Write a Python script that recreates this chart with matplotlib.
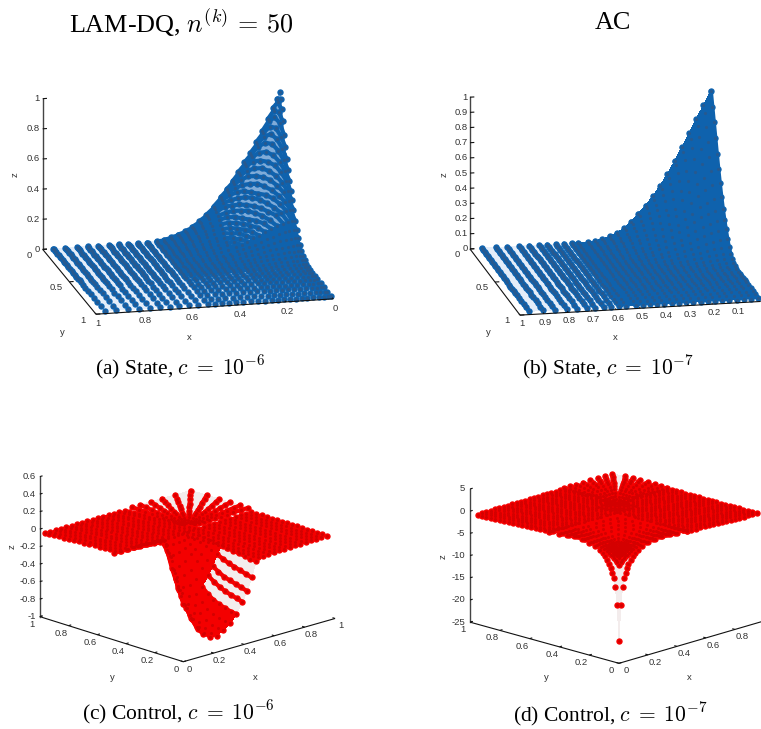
import numpy as np
import matplotlib
matplotlib.use('Agg')
import matplotlib.pyplot as plt
from mpl_toolkits.mplot3d import proj3d

W, H = 761, 729
plt.rcParams['font.family'] = ['Liberation Sans', 'DejaVu Sans']
plt.rcParams['mathtext.fontset'] = 'cm'

BLUE, BLUE_D, BLUE_P, BLUE_M = '#0f62ad', '#27598f', '#e4edf9', '#7fabd8'
RED, RED_D, RED_P = '#f40000', '#d40000', '#f3ecec'

# ---------- (a) state, LAM-DQ ----------
a_low = [0,.012,.03,.05,.075,.1,.125,.15,.175,.2,.225,.25,.28,.31,.34,.37,.4,.43,.46,.49,.52]
a_x_high = [.56,.6,.64,.68,.72,.765,.81,.855,.905,.955]
a_y_high = [.56,.6,.65,.7,.76,.82,.89,.96]
a_z = [
 [.94],
 [.90,.88],
 [.84,.825,.79],
 [.77,.76,.73,.69],
 [.69,.68,.665,.635,.585],
 [.62,.61,.60,.57,.53,.49],
 [.55,.545,.535,.515,.48,.44,.40],
 [.49,.485,.478,.455,.43,.39,.345,.32],
 [.43,.43,.42,.40,.375,.345,.315,.275,.245],
 [.37,.37,.365,.345,.33,.30,.27,.24,.20,.175],
 [.32,.32,.315,.30,.28,.255,.23,.20,.17,.145,.125],
 [.27,.27,.265,.25,.24,.21,.19,.165,.14,.115,.095,.08],
 [.21,.21,.205,.195,.18,.165,.145,.125,.11,.09,.07,.06,.045],
 [.16,.16,.157,.15,.14,.125,.11,.095,.08,.07,.055,.043,.03,.022],
 [.12,.12,.118,.112,.105,.097,.087,.076,.066,.056,.046,.037,.028,.02,.014],
 [.085,.085,.083,.08,.075,.07,.063,.055,.047,.04,.033,.026,.02,.014,.009,.006],
 [.06,.06,.058,.056,.053,.05,.045,.04,.034,.029,.024,.018,.013,.009,.006,.003,.002],
 [.04,.04,.039,.037,.035,.032,.029,.025,.021,.018,.014,.011,.008,.005,.003,.002,.001,.001],
 [.025,.025,.024,.023,.021,.019,.017,.015,.012,.01,.008,.006,.004,.003,.002,.001,.001],
 [.012,.012,.011,.011,.01,.009,.008,.007,.006,.005,.004,.003,.002,.001,.001],
 [.004,.004,.004,.004,.003,.003,.003,.002,.002,.002,.001,.001,.001],
]

# ---------- (b) state, AC ----------
b_low = [0,.03,.06,.09,.12,.15,.18,.21,.24,.27,.30,.33,.36,.39,.42,.45,.48,.51]
b_high = [.55,.578,.61,.643,.679,.712,.753,.796,.845,.893,.952]
b_z = [
 [.95],
 [.86,.82],
 [.77,.74,.68],
 [.68,.655,.61,.55],
 [.59,.57,.53,.475,.42],
 [.50,.49,.45,.41,.36,.31],
 [.42,.41,.38,.345,.305,.255,.22],
 [.345,.335,.31,.285,.24,.215,.175,.145],
 [.28,.27,.25,.23,.2,.17,.14,.11,.09],
 [.22,.215,.2,.18,.155,.13,.105,.085,.065,.05],
 [.17,.165,.15,.135,.115,.095,.08,.06,.045,.035,.025],
 [.12,.115,.105,.095,.08,.065,.055,.04,.03,.022,.015,.01],
 [.08,.078,.07,.063,.053,.044,.035,.026,.018,.012,.008,.005,.003],
 [.05,.049,.044,.04,.034,.027,.02,.015,.01,.006,.004,.002,.001],
 [.03,.029,.026,.023,.019,.015,.011,.008,.005,.003,.002,.001],
 [.015,.014,.013,.011,.009,.007,.005,.003,.002,.001],
 [.006,.006,.005,.004,.003,.002,.001],
 [.001,.001],
]

# ---------- (c) control, LAM-DQ ----------
c_bowl_x = [0,.044,.088,.132,.176,.22,.264,.31,.35,.39,.42,.45,.48]
c_bowl_y = [0,.04,.08,.12,.16,.2,.24,.28,.32,.36,.4,.44,.48]
c_bowl_z = [
 [-.34,-.49,-.65,-.75,-.80,-.81,-.77,-.71,-.63,-.51,-.40,-.26,-.085],
 [-.15,-.38,-.56,-.71,-.78,-.80,-.77,-.71,-.62,-.49,-.38,-.24,-.08],
 [.03,-.22,-.44,-.62,-.73,-.77,-.75,-.69,-.60,-.47,-.36,-.22,-.07],
 [.26,-.02,-.29,-.51,-.66,-.72,-.72,-.67,-.58,-.45,-.34,-.2,-.06],
 [.31,.17,-.08,-.33,-.56,-.64,-.66,-.63,-.55,-.42,-.32,-.18,-.05],
 [.27,.26,.11,-.16,-.44,-.55,-.59,-.57,-.5,-.38,-.28,-.15,-.04],
 [.23,.235,.23,.05,-.26,-.45,-.50,-.50,-.44,-.33,-.24,-.12,-.03],
 [.2,.19,.19,.19,-.02,-.33,-.42,-.42,-.37,-.27,-.19,-.09,-.02],
 [.16,.155,.15,.15,.13,-.08,-.33,-.33,-.29,-.21,-.14,-.06,-.01],
 [.12,.118,.116,.112,.108,.1,-.16,-.24,-.21,-.15,-.1,-.04,0],
 [.08,.08,.08,.075,.07,.06,.01,-.14,-.13,-.1,-.07,-.03,0],
 [.04,.04,.04,.035,.03,.025,.01,-.05,-.06,-.05,-.04,-.02,0],
 [0,0,0,0,0,0,0,-.01,-.01,-.01,-.01,0,0],
]
c_lw_x = [.02,.055,.09,.125,.16,.195,.23,.265,.3,.335,.37,.405,.44,.475,.51,.545]
c_lw_y = [.5,.535,.57,.605,.64,.675,.71,.745,.78,.815,.85,.885,.92,.955,.985]
c_lw_z = [0,0,-.005,-.01,-.01,-.015,-.02,-.02,-.025,-.03,-.03,-.035,-.04,-.045,-.05]
c_rw_x = [.5,.535,.57,.605,.64,.675,.71,.745,.78,.815,.85,.885,.92,.955]
c_rw_y = [.01,.045,.08,.115,.15,.185,.22,.255,.29,.325,.36,.395,.43,.465,.5,.535]
c_rw_z = [-.06,-.06,-.055,-.055,-.05,-.05,-.05,-.045,-.045,-.045,-.04,-.04,-.04,-.04]
c_fan_cx, c_fan_cy = .547, .547
c_tip_x = [.608,.663,.731,.806,.894,.993,1,1,1,1,1]
c_tip_y = [1,1,1,1,1,1,.894,.806,.731,.663,.608]
c_fan_r = [.12,.19,.27,.36,.45,.55,.65,.76,.88,1]
c_fan_z = [-.01,-.015,-.02,-.025,-.03,-.035,-.04,-.04,-.045,-.05]

# ---------- (d) control, AC ----------
d_low = [0,.012,.025,.035,.045,.055,.065,.08,.095,.11,.13,.16,.2,.25,.3,.35,.4,.47]
d_z = [
 [-20],
 [-12,-3],
 [-8,-2.5,-1.8],
 [-6.2,-2.1,-1.5,-1.2],
 [-5,-1.8,-1.3,-1,-.9],
 [-4,-1.5,-1.1,-.9,-.8,-.7],
 [-3.2,-1.3,-.9,-.8,-.7,-.6,-.5],
 [-2.4,-1,-.7,-.6,-.5,-.4,-.4,-.3],
 [-1.7,-.8,-.5,-.4,-.3,-.3,-.2,-.2,-.1],
 [-1.2,-.5,-.3,-.2,-.2,-.1,-.1,0,0,.1],
 [-.7,-.2,-.1,0,0,0,.1,.1,.1,.1,.2],
 [-.1,.1,.1,.2,.2,.2,.2,.2,.2,.3,.3,.3],
 [.3,.3,.3,.3,.3,.4,.4,.4,.4,.4,.4,.4,.4],
 [.6,.6,.5,.5,.5,.5,.5,.5,.5,.5,.5,.5,.5,.5],
 [.8,.7,.6,.6,.6,.5,.5,.5,.5,.5,.5,.5,.5,.5,.5],
 [.7,.6,.6,.5,.5,.5,.5,.5,.5,.5,.5,.5,.5,.5,.5,.4],
 [.5,.5,.5,.5,.5,.4,.4,.4,.4,.4,.4,.4,.4,.4,.4,.4,.3],
 [.36,.35,.35,.35,.35,.3,.3,.3,.3,.3,.3,.3,.3,.3,.3,.3,.25,.2],
]
d_near = [0,.03,.06,.09,.12,.15,.18,.21,.24,.27,.3,.33,.36,.39,.42,.45,.48,.51,.54,.57,.6]
d_far = [.47,.5,.53,.56,.59,.62,.65,.68,.71,.74,.77,.8,.83,.86,.89,.92,.95]
d_far_z = [.25,.3,.3,.28,.25,.22,.2,.15,.1,.05,0,-.05,-.1,-.15,-.2,-.25,-.3]
d_fan_cx, d_fan_cy = .55, .55
d_tip_x = [.65,.69,.73,.78,.83,.88,.93,.98,1,1,1,1,1,1,1]
d_tip_y = [1,1,1,1,1,1,1,1,.93,.88,.83,.78,.73,.69,.65]
d_fan_r = [.1,.2,.3,.4,.5,.6,.7,.8,.9,1]
d_fan_z = [-.05,-.1,-.15,-.2,-.3,-.4,-.5,-.65,-.8,-1]


def tri_matrix(rows, nx, ny):
    Z = np.zeros((nx, ny))
    for i, r in enumerate(rows):
        for j, v in enumerate(r):
            Z[i, j] = v
            Z[j, i] = v
    return Z


fig = plt.figure(figsize=(W / 100, H / 100), dpi=100)


def to_px(ax, x, y, z):
    X, Y, _ = proj3d.proj_transform(x, y, z, ax.get_proj())
    p = ax.transData.transform((X, Y))
    return p[0], H - p[1]


def panel(az, el, S, zlim, anchor, target, xlen):
    side = 700
    ax = fig.add_axes([0.1, 0.02, side / W, side / H], projection='3d')
    ax.patch.set_alpha(0)
    ax.set_proj_type('ortho')
    ax.view_init(elev=el, azim=az)
    ax.set_xlim(0, 1, view_margin=0)
    ax.set_ylim(0, 1, view_margin=0)
    ax.set_zlim(*zlim, view_margin=0)
    ax.set_box_aspect(S, zoom=1)
    ax.apply_aspect()
    a0 = np.array(to_px(ax, 0, 0, zlim[0]))
    a1 = np.array(to_px(ax, 1, 0, zlim[0]))
    ax.set_box_aspect(S, zoom=xlen / np.linalg.norm(a1 - a0))
    ax.apply_aspect()
    p = np.array(to_px(ax, *anchor))
    d = np.array(target) - p
    pos = ax.get_position(original=True)
    ax.set_position([pos.x0 + d[0] / W, pos.y0 - d[1] / H, pos.width, pos.height])
    ax.apply_aspect()
    ax.set_axis_off()
    ax.computed_zorder = False
    return ax


def label(x, y, s, **kw):
    kw.setdefault('fontsize', 6.8)
    kw.setdefault('color', '#333333')
    fig.text(x / W, 1 - y / H, s, ha=kw.pop('ha', 'center'), va='center', **kw)


def axes_lines(ax, xt, xl, yt, yl, zt, zl, y0, x0, zb, xo, yo, zo, tick=.018):
    """x axis along y=y0, y axis along x=x0, both at z=zb; z axis at (x0, 1-y0)."""
    k = dict(color='#111111', lw=.8, zorder=5, solid_capstyle='butt')
    ax.plot([0, 1], [y0, y0], [zb, zb], **k)
    ax.plot([x0, x0], [0, 1], [zb, zb], **k)
    yz = 1 - y0
    ax.plot([x0, x0], [yz, yz], [zt[0], zt[-1]], color='#444444', lw=1.0, zorder=5)
    sy = 1 if y0 == 0 else -1
    sx = 1 if x0 == 0 else -1
    for t, s in zip(xt, xl):
        ax.plot([t, t], [y0, y0 + sy * tick], [zb, zb], **k)
        p = to_px(ax, t, y0, zb)
        label(p[0] + xo[0], p[1] + xo[1], s)
    for t, s in zip(yt, yl):
        ax.plot([x0, x0 + sx * tick], [t, t], [zb, zb], **k)
        p = to_px(ax, x0, t, zb)
        label(p[0] + yo[0], p[1] + yo[1], s)
    for t, s in zip(zt, zl):
        ax.plot([x0, x0 + sx * tick], [yz, yz], [t, t], **k)
        p = to_px(ax, x0, yz, t)
        label(p[0] + zo, p[1], s, ha='right')


def dots(ax, x, y, z, col, dark, s=21, s2=5):
    x, y, z = map(np.ravel, (x, y, z))
    ax.scatter(x, y, z, s=s, c=col, linewidths=0, depthshade=False, zorder=3)
    ax.scatter(x, y, z, s=s2, c=dark, linewidths=0, depthshade=False, zorder=4)


def sheet(ax, X, Y, Z, col, zo=1.0):
    ax.plot_surface(X, Y, Z, color=col, shade=False, linewidth=0, antialiased=False,
                    rstride=1, cstride=1, zorder=zo)


def strokes(ax, X, Y, Z, col, lw=3.0):
    for xs, ys, zs in zip(X, Y, Z):
        ax.plot(xs, ys, zs, color=col, lw=lw, zorder=2, solid_capstyle='round')


# ---- panel (a)
ax = panel(77, 16.3, (243.5, 237, 157), (0, 1), (0, 0, 0), (280, 234), 237.8)
ax_x = np.array(a_low + a_x_high)
ax_y = np.array(a_low + a_y_high)
na = len(a_low)
Za = np.zeros((len(ax_x), len(ax_y)))
Za[:na, :na] = tri_matrix(a_z, na, na)
Xa, Ya = np.meshgrid(ax_x, ax_y, indexing='ij')
sheet(ax, Xa, Ya, Za, BLUE_P)
# inner region: the arches thin out towards the peak
sheet(ax, Xa[:13, :13], Ya[:13, :13], Za[:13, :13], BLUE_M, 1.2)
sheet(ax, Xa[12:na, :na], Ya[12:na, :na], Za[12:na, :na], BLUE, 1.3)
sheet(ax, Xa[:na, 12:na], Ya[:na, 12:na], Za[:na, 12:na], BLUE, 1.3)
for k in range(1, 26):
    idx = [(i, k - i) for i in range(na) if 0 <= k - i < na]
    ii, jj = zip(*idx)
    ax.plot(Xa[ii, jj], Ya[ii, jj], Za[ii, jj], color=BLUE, lw=3.0, zorder=2,
            solid_capstyle='round')
strokes(ax, Xa[na - 1:, :na + 1], Ya[na - 1:, :na + 1], Za[na - 1:, :na + 1], BLUE, 3.2)
dots(ax, Xa, Ya, Za, BLUE, BLUE_D)
axes_lines(ax, [0, .2, .4, .6, .8, 1], ['0', '0.2', '0.4', '0.6', '0.8', '1'],
           [0, .5, 1], ['0', '0.5', '1'],
           [0, .2, .4, .6, .8, 1], ['0', '0.2', '0.4', '0.6', '0.8', '1'],
           1, 1, 0, (1.5, 9.5), (-13, 6), -3)
label(15.5, 175, 'z', rotation=90)
label(189, 337, 'x')
label(62, 332, 'y')

# ---- panel (b)
ax = panel(78.3, 15.9, (245.8, 246.6, 157.8), (0, 1), (0, 0, 0), (710.7, 235.3), 241.1)
bn = np.array(b_low + b_high)
nb = len(b_low)
Zb = np.zeros((len(bn), len(bn)))
Zb[:nb, :nb] = tri_matrix(b_z, nb, nb)
Xb, Yb = np.meshgrid(bn, bn, indexing='ij')
sheet(ax, Xb, Yb, Zb, BLUE_P)
sheet(ax, Xb[:nb + 2], Yb[:nb + 2], Zb[:nb + 2], BLUE, 1.3)
strokes(ax, Xb, Yb, Zb, BLUE, 3.2)
dots(ax, Xb, Yb, Zb, BLUE, BLUE_D)
xtb = [.1, .2, .3, .4, .5, .6, .7, .8, .9, 1]
axes_lines(ax, xtb, ['0.1', '0.2', '0.3', '0.4', '0.5', '0.6', '0.7', '0.8', '0.9', '1'],
           [0, .5, 1], ['0', '0.5', '1'],
           [0, .1, .2, .3, .4, .5, .6, .7, .8, .9, 1],
           ['0', '0.1', '0.2', '0.3', '0.4', '0.5', '0.6', '0.7', '0.8', '0.9', '1'],
           1, 1, 0, (1.5, 8.5), (-13, 5.5), -2)
label(444, 175, 'z', rotation=90)
label(615, 337, 'x')
label(488, 332, 'y')

# ---- panel (c)
ax = panel(-133.6, 17.4, (209.5, 208, 146.7), (-1, .6), (0, 0, -1), (183.3, 661.7), 157.8)
Xc, Yc = np.meshgrid(c_bowl_x, c_bowl_y, indexing='ij')
Zc = np.array(c_bowl_z).T
sheet(ax, Xc, Yc, Zc, RED_P)
sheet(ax, Xc[:, 6:], Yc[:, 6:], Zc[:, 6:], RED, 1.3)
sheet(ax, Xc[:9], Yc[:9], Zc[:9], RED, 1.3)
tx, ty, fr = np.array(c_tip_x), np.array(c_tip_y), np.array(c_fan_r)
Xf = c_fan_cx + np.outer(tx - c_fan_cx, fr)
Yf = c_fan_cy + np.outer(ty - c_fan_cy, fr)
Zf = np.tile(np.array(c_fan_z), (len(tx), 1))
sheet(ax, Xf, Yf, Zf, RED_P)
strokes(ax, Xf, Yf, Zf, RED)
dots(ax, Xf, Yf, Zf, RED, RED_D)
Xl, Yl = np.meshgrid(c_lw_x, c_lw_y, indexing='ij')
Zl = np.tile(np.array(c_lw_z), (len(c_lw_x), 1))
sheet(ax, Xl, Yl, Zl, RED, 1.3)
dots(ax, Xl, Yl, Zl, RED, RED_D)
Xr, Yr = np.meshgrid(c_rw_x, c_rw_y, indexing='ij')
Zr = np.tile(np.array(c_rw_z)[:, None], (1, len(c_rw_y)))
sheet(ax, Xr, Yr, Zr, RED, 1.3)
dots(ax, Xr, Yr, Zr, RED, RED_D)
strokes(ax, Xc, Yc, Zc, RED)
dots(ax, Xc, Yc, Zc, RED, RED_D)
t5 = [0, .2, .4, .6, .8, 1]
l5 = ['0', '0.2', '0.4', '0.6', '0.8', '1']
axes_lines(ax, t5, l5, t5, l5,
           [-1, -.8, -.6, -.4, -.2, 0, .2, .4, .6],
           ['-1', '-0.8', '-0.6', '-0.4', '-0.2', '0', '0.2', '0.4', '0.6'],
           0, 0, -1, (6, 7.5), (-7.5, 7.5), -4)
label(12, 547, 'z', rotation=90)
label(255, 677, 'x')
label(112, 677, 'y')

# ---- panel (d)
ax = panel(-135.8, 16.5, (208, 207.8, 139), (-25, 5), (0, 0, -25), (619, 663.3), 151)
dn = np.array(d_low)
Zd = tri_matrix(d_z, len(dn), len(dn))
Xd, Yd = np.meshgrid(dn, dn, indexing='ij')
sheet(ax, Xd, Yd, Zd, RED_P)
sheet(ax, Xd[1:, 1:], Yd[1:, 1:], Zd[1:, 1:], RED, 1.3)
tx, ty, fr = np.array(d_tip_x), np.array(d_tip_y), np.array(d_fan_r)
Xf = d_fan_cx + np.outer(tx - d_fan_cx, fr)
Yf = d_fan_cy + np.outer(ty - d_fan_cy, fr)
Zf = np.tile(np.array(d_fan_z), (len(tx), 1))
sheet(ax, Xf, Yf, Zf, RED_P)
strokes(ax, Xf, Yf, Zf, RED)
dots(ax, Xf, Yf, Zf, RED, RED_D)
Xl, Yl = np.meshgrid(d_near, d_far, indexing='ij')
Zl = np.tile(np.array(d_far_z), (len(d_near), 1))
sheet(ax, Xl, Yl, Zl, RED, 1.3)
sheet(ax, Yl, Xl, Zl, RED, 1.3)
dots(ax, Xl, Yl, Zl, RED, RED_D)
dots(ax, Yl, Xl, Zl, RED, RED_D)
dots(ax, Xd, Yd, Zd, RED, RED_D)
axes_lines(ax, [0, .2, .4, .6, .8], l5[:5], t5, l5,
           [-25, -20, -15, -10, -5, 0, 5],
           ['-25', '-20', '-15', '-10', '-5', '0', '5'],
           0, 0, -25, (7, 7.5), (-7.5, 7.5), -5)
label(443, 557, 'z', rotation=90)
label(689, 678, 'x')
label(546, 678, 'y')

# ---- titles and captions
serif = ['Liberation Serif', 'DejaVu Serif']
for x, y, s, fs in [
    (181, 23, r'LAM-DQ, $n^{(k)}\,=\,50$', 18.8),
    (613, 23, 'AC', 18.8),
    (180, 367, r'(a) State, $c\;=\;10^{-6}$', 15.5),
    (608, 367, r'(b) State, $c\;=\;10^{-7}$', 15.5),
    (178, 712, r'(c) Control, $c\;=\;10^{-6}$', 15.5),
    (610, 714, r'(d) Control, $c\;=\;10^{-7}$', 15.5),
]:
    fig.text(x / W, 1 - y / H, s, ha='center', va='center', fontsize=fs,
             family=serif, color='black')

fig.savefig('out.png', dpi=100)
